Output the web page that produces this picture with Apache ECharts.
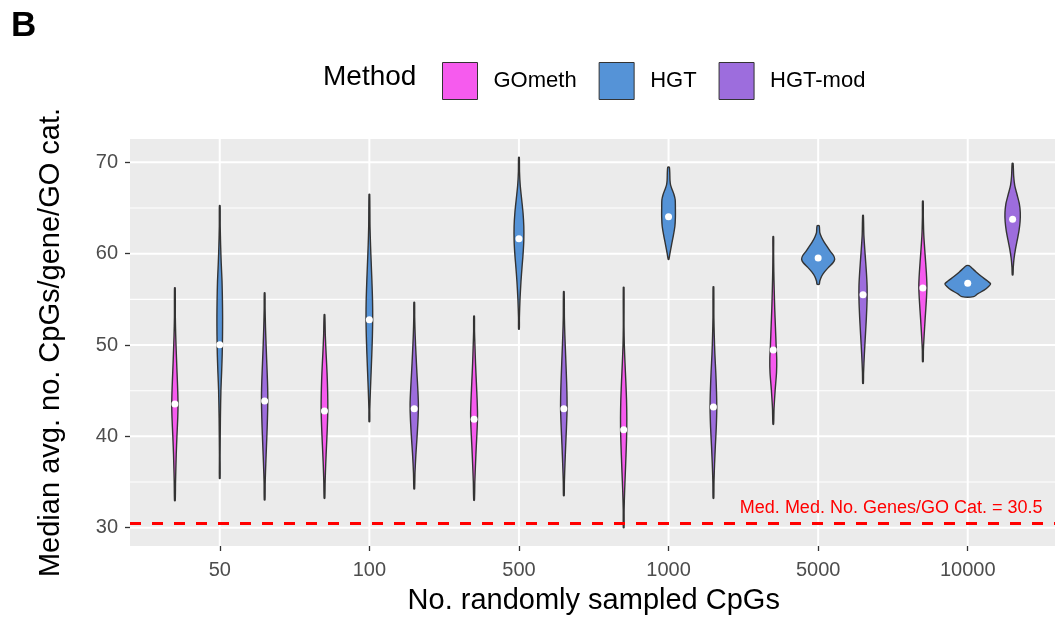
<!DOCTYPE html>
<html>
<head>
<meta charset="utf-8">
<script src="https://cdn.jsdelivr.net/npm/echarts@6/dist/echarts.min.js"></script>
<style>
html,body{margin:0;padding:0;background:#fff;}
#chart{width:1055px;height:617px;}
</style>
</head>
<body>
<div id="chart"></div>
<script>
// ---------- data ----------
const categories = ['50', '100', '500', '1000', '5000', '10000'];
const methods = ['GOmeth', 'HGT', 'HGT-mod'];
const yTicks = [30, 40, 50, 60, 70];
const yMinorTicks = [35, 45, 55, 65];
const refLineValue = 30.5;
const refLineLabel = 'Med. Med. No. Genes/GO Cat. = 30.5';

const gomethMedians = [43.54, 42.77, 41.87, 40.73, 49.45, 56.24];
const hgtMedians    = [50.03, 52.77, 61.64, 64.05, 59.52, 56.76];
const hgtModMedians = [43.87, 43.03, 43.03, 43.21, 55.50, 63.76];

// violin profiles: [value, relative density] from min to max
const gomethProfiles = [
  [[32.96,0.5],[35,0.8],[38,1.5],[40,2.2],[42,3.0],[43.5,3.3],[45,3.0],[47,2.3],[49,1.6],[51,1.0],[53,0.6],[56.27,0.5]],
  [[33.22,0.5],[35,0.8],[37,1.4],[39,2.2],[41,3.0],[43,3.5],[45,3.3],[47,2.7],[49,1.8],[51,1.0],[53.32,0.5]],
  [[33.0,0.5],[35,0.9],[37,1.6],[39,2.4],[41,3.3],[42.5,3.6],[44,3.2],[46,2.4],[48,1.6],[50,1.0],[51.5,0.6],[53.17,0.5]],
  [[30.0,0.5],[32,0.6],[34,1.1],[36,1.8],[38,2.5],[40,3.1],[42,3.3],[44,3.0],[46,2.3],[48,1.5],[50,0.8],[52,0.5],[56.32,0.5]],
  [[41.32,0.5],[43,0.9],[45,2.0],[47,3.4],[48.5,3.6],[50,3.0],[52,2.3],[54,1.6],[56,1.1],[58,0.7],[60,0.5],[61.86,0.5]],
  [[48.17,0.5],[49.5,0.7],[51,1.4],[53,2.5],[55,3.7],[56.5,4.2],[58,3.6],[60,2.3],[62,1.1],[64,0.6],[65.76,0.5]]
];
const hgtProfiles = [
  [[35.4,0.5],[38,0.5],[42,0.8],[45,1.3],[47,2.0],[49,2.6],[51,2.9],[53,3.0],[55,2.8],[57,2.4],[59,1.6],[61,1.0],[63,0.6],[65.25,0.5]],
  [[41.6,0.5],[43,0.6],[45,1.2],[47,1.9],[49,2.6],[51,3.2],[53,3.5],[55,3.3],[57,2.7],[59,2.0],[61,1.3],[63,0.8],[66.5,0.5]],
  [[51.72,0.5],[53,0.6],[55,1.2],[57,2.2],[58.5,3.2],[60,4.3],[61.5,5.0],[63,5.0],[64.5,4.2],[66,2.8],[67.5,1.4],[69,0.7],[70.55,0.5]],
  [[59.38,0.5],[60,1.5],[61,3.2],[62,5.0],[63,6.5],[64,7.0],[65,7.0],[65.9,6.8],[66.5,5.5],[67,3.8],[67.5,2.2],[68,1.6],[69.45,1.0]],
  [[56.64,1.2],[57.0,1.8],[57.5,3.5],[58.0,6.5],[58.5,10.5],[59.0,15],[59.4,16.7],[59.8,15.5],[60.3,12],[60.8,9],[61.3,6],[61.8,3.5],[62.3,1.8],[63.06,1.2]],
  [[55.29,6],[55.6,10],[56.0,16.5],[56.4,21],[56.7,23],[57.0,20],[57.5,14],[58.0,8.5],[58.4,4.5],[58.68,1.5]]
];
const hgtModProfiles = [
  [[33.03,0.5],[35,0.7],[37,1.3],[39,2.0],[41,2.7],[43,3.2],[44.5,3.3],[46,3.0],[48,2.3],[50,1.6],[52,1.0],[54,0.6],[55.7,0.5]],
  [[34.24,0.5],[36,0.9],[38,1.8],[40,3.0],[42,4.0],[43.5,4.3],[45,3.8],[47,2.8],[49,1.9],[51,1.1],[53,0.6],[54.67,0.5]],
  [[33.5,0.5],[35,0.7],[37,1.3],[39,2.0],[41,2.8],[43,3.4],[45,3.2],[47,2.6],[49,1.9],[51,1.2],[53,0.7],[55.84,0.5]],
  [[33.22,0.5],[35,0.7],[37,1.3],[39,2.1],[41,3.0],[43,3.5],[45,3.2],[47,2.5],[49,1.6],[51,1.0],[53,0.6],[56.38,0.5]],
  [[45.8,0.5],[47,0.7],[49,1.5],[51,2.5],[53,3.5],[55,4.2],[56.5,4.2],[58,3.5],[60,2.2],[62,1.0],[64.2,0.5]],
  [[57.66,0.5],[58.5,0.8],[59.5,1.6],[60.5,3.0],[61.5,4.8],[62.5,6.5],[63.5,7.6],[64.5,7.8],[65.5,6.8],[66.5,4.5],[67.5,2.2],[68.5,1.2],[69.89,0.6]]
];

// ---------- style / layout ----------
const colors = ['#F65BEE', '#5593D7', '#9D6DDD'];
const dodge = [-0.3, 0, 0.3];
const densityScale = 1 / 149.6; // density units -> category units
const X_MIN = 0.4, X_MAX = 6.6, Y_MIN = 28.0, Y_MAX = 72.55;
const FONT = 'Liberation Sans';

const profilesByMethod = [gomethProfiles, hgtProfiles, hgtModProfiles];
const mediansByMethod = [gomethMedians, hgtMedians, hgtModMedians];

function violinSeries(m) {
  const profs = profilesByMethod[m];
  return {
    type: 'custom',
    name: methods[m],
    z: 3,
    itemStyle: { color: colors[m], borderColor: '#333333', borderWidth: 1 },
    data: categories.map((c, i) => [i + 1 + dodge[m], mediansByMethod[m][i]]),
    encode: { x: 0, y: 1 },
    renderItem: function (params, api) {
      const prof = profs[params.dataIndex];
      const xc = api.value(0);
      const w = d => Math.max(d - 0.15, 0.3) * densityScale;
      const right = prof.map(p => api.coord([xc + w(p[1]), p[0]]));
      const left = prof.slice().reverse().map(p => api.coord([xc - w(p[1]), p[0]]));
      return {
        type: 'polygon',
        shape: { points: right.concat(left), smooth: 0.25 },
        style: { fill: colors[m], stroke: '#333333', lineWidth: 1.4 }
      };
    }
  };
}

function medianSeries(m) {
  return {
    type: 'scatter',
    name: methods[m] + ' median',
    z: 6,
    symbol: 'circle',
    symbolSize: 7,
    itemStyle: { color: '#FFFFFF', opacity: 1 },
    data: categories.map((c, i) => [i + 1 + dodge[m], mediansByMethod[m][i]])
  };
}

// panel grid lines (drawn under the violins)
const gridLineItems = [
  ...yTicks.map(v => ['h', v, 2]),
  ...yMinorTicks.map(v => ['h', v, 1.1]),
  ...categories.map((c, i) => ['v', i + 1, 2])
];
const gridSeries = {
  type: 'custom',
  name: '_grid',
  z: 1,
  silent: true,
  clip: true,
  data: gridLineItems.map((g, i) => [i]),
  renderItem: function (params, api) {
    const g = gridLineItems[params.dataIndex];
    let p1, p2;
    if (g[0] === 'h') { p1 = api.coord([X_MIN, g[1]]); p2 = api.coord([X_MAX, g[1]]); }
    else { p1 = api.coord([g[1], Y_MIN]); p2 = api.coord([g[1], Y_MAX]); }
    return {
      type: 'line',
      shape: { x1: p1[0], y1: p1[1], x2: p2[0], y2: p2[1] },
      style: { stroke: '#FFFFFF', lineWidth: g[2] }
    };
  }
};

const refSeries = {
  type: 'line',
  name: '_ref',
  z: 4,
  silent: true,
  data: [],
  markLine: {
    silent: true,
    symbol: 'none',
    animation: false,
    emphasis: { disabled: true },
    lineStyle: { color: '#FF0000', width: 3, type: [11, 11] },
    label: {
      show: true,
      position: 'insideEndTop',
      formatter: refLineLabel,
      color: '#FF0000',
      fontSize: 18,
      fontFamily: FONT,
      distance: [15, 6]
    },
    data: [{ yAxis: refLineValue }]
  }
};

const chart = echarts.init(document.getElementById('chart'), null, { renderer: 'canvas' });
chart.setOption({
  animation: false,
  textStyle: { fontFamily: FONT },
  grid: {
    left: 130, top: 139, width: 927.5, height: 407,
    outerBoundsMode: 'none',
    containLabel: false,
    show: true, backgroundColor: '#EBEBEB', borderWidth: 0
  },
  xAxis: {
    type: 'value',
    min: X_MIN, max: X_MAX,
    splitLine: { show: false },
    axisLine: { show: false },
    axisTick: { show: true, customValues: categories.map((c, i) => i + 1), length: 5, lineStyle: { color: '#333333', width: 1.3 } },
    axisLabel: {
      customValues: categories.map((c, i) => i + 1),
      formatter: v => categories[Math.round(v) - 1],
      color: '#4D4D4D', fontSize: 20, margin: 14, fontFamily: FONT
    },
    name: 'No. randomly sampled CpGs',
    nameLocation: 'middle',
    nameGap: 40,
    nameTextStyle: { color: '#000000', fontSize: 29, fontFamily: FONT }
  },
  yAxis: {
    type: 'value',
    min: Y_MIN, max: Y_MAX,
    splitLine: { show: false },
    axisLine: { show: false },
    axisTick: { show: true, customValues: yTicks, length: 5, lineStyle: { color: '#333333', width: 1.3 } },
    axisLabel: {
      customValues: yTicks,
      color: '#4D4D4D', fontSize: 20, margin: 12, fontFamily: FONT
    },
    name: 'Median avg. no. CpGs/gene/GO cat.',
    nameLocation: 'middle',
    nameGap: 65,
    nameRotate: 90,
    nameTextStyle: { color: '#000000', fontSize: 29, fontFamily: FONT }
  },
  legend: {
    left: 437, top: 57,
    orient: 'horizontal',
    itemWidth: 35, itemHeight: 37, itemGap: 22,
    icon: 'rect',
    selectedMode: false,
    textStyle: { fontSize: 22, color: '#000000', fontFamily: FONT, padding: [0, 0, 0, 11] },
    data: methods.map((m, i) => ({ name: m, itemStyle: { color: colors[i], borderColor: '#333333', borderWidth: 1 } }))
  },
  graphic: [
    { type: 'text', left: 11, top: 9, style: { text: 'B', fontSize: 35, fontWeight: 'bold', fill: '#000000', fontFamily: FONT } },
    { type: 'text', left: 323, top: 63, style: { text: 'Method', fontSize: 28, fill: '#000000', fontFamily: FONT } }
  ],
  series: [
    gridSeries,
    violinSeries(0), violinSeries(1), violinSeries(2),
    refSeries,
    medianSeries(0), medianSeries(1), medianSeries(2)
  ]
});
</script>
</body>
</html>
